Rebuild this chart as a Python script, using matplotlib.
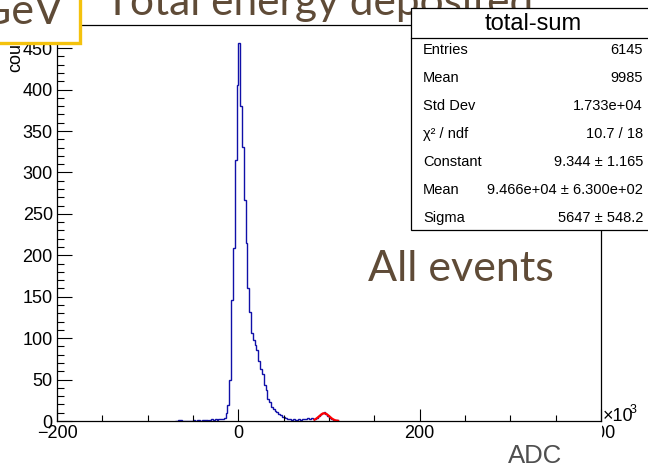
import numpy as np
import matplotlib
matplotlib.use("Agg")
import matplotlib.pyplot as plt
from matplotlib.transforms import Affine2D
from matplotlib.patches import Rectangle
from matplotlib.ticker import MultipleLocator, FixedLocator

# ---------------- data ----------------
bin_start = -70.0      # x10^3 ADC
bin_width = 2.0        # x10^3 ADC
counts = [0, 0, 1, 1, 0, 0, 0, 0, 0, 0,
          1, 0, 1, 1, 0, 1, 1, 1, 0, 1,
          2, 1, 2, 1, 2, 3, 3, 4, 10, 19,
          50, 146, 209, 315, 405,
          456, 380, 331, 267, 215, 160, 132, 106, 98, 92,
          86, 72, 63, 57, 44, 38, 27, 23, 17, 14,
          12, 11, 8, 7, 5, 5, 4, 3, 2, 1,
          2, 1, 1, 2, 1, 2, 3, 2, 4, 3,
          4, 2, 2, 4, 6, 8, 10, 11, 9, 6,
          4, 2, 1, 0, 1]

fit_const = 9.344
fit_mean = 94.66      # x10^3
fit_sigma = 5.647     # x10^3
fit_range = (84.0, 110.0)

stats_title = "total-sum"
stats_labels = ["Entries", "Mean", "Std Dev", "\u03c7\u00b2 / ndf", "Constant", "Mean", "Sigma"]
stats_values = ["6145", "9985", "1.733e+04", "10.7 / 18", "9.344 \u00b1 1.165",
                "9.466e+04 \u00b1 6.300e+02", "5647 \u00b1 548.2"]

x_major = [-200, 0, 200, 400]
x_ticklabels = ["\u2212200", "0", "200", "400"]

# ---------------- figure ----------------
W, H = 648, 465
fig = plt.figure(figsize=(W / 100, H / 100), dpi=100)
px = Affine2D().scale(1 / W, -1 / H).translate(0, 1) + fig.transFigure

ROOTF = "Liberation Sans"
SLIDEF = "Lato"
brown = "#5f4b37"

L, R, T, B = 57, 601, 25, 421
ax = fig.add_axes([L / W, 1 - B / H, (R - L) / W, (B - T) / H])

edges = bin_start + bin_width * np.arange(len(counts) + 1)
ax.stairs(counts, edges, color="#1010a8", lw=1.0, baseline=0)

xf = np.linspace(fit_range[0], fit_range[1], 200)
yf = fit_const * np.exp(-0.5 * ((xf - fit_mean) / fit_sigma) ** 2)
ax.plot(xf, yf, color="#ff0000", lw=1.6)

ax.set_xlim(-200, 400)
ax.set_ylim(0, 478)

for s in ax.spines.values():
    s.set_color("black")
    s.set_linewidth(0.9)

ax.xaxis.set_major_locator(FixedLocator(x_major))
ax.set_xticklabels(x_ticklabels)
ax.xaxis.set_minor_locator(MultipleLocator(50))
ax.yaxis.set_major_locator(MultipleLocator(50))
ax.yaxis.set_minor_locator(MultipleLocator(10))
ax.tick_params(axis="x", which="major", direction="in", length=8.5, width=0.8, pad=3,
               labelsize=13, top=False, colors="black")
ax.tick_params(axis="x", which="minor", direction="in", length=4.3, width=0.8, top=False)
ax.tick_params(axis="y", which="major", direction="in", length=10.8, width=0.8, pad=3,
               labelsize=13, right=False)
ax.tick_params(axis="y", which="minor", direction="in", length=5.0, width=0.8, right=False)
for lab in ax.get_xticklabels() + ax.get_yticklabels():
    lab.set_family(ROOTF)

# x10^3 multiplier
fig.text(603, 421, "\u00d710", transform=px, fontsize=13, family=ROOTF, ha="left", va="baseline")
fig.text(630, 413, "3", transform=px, fontsize=9, family=ROOTF, ha="left", va="baseline")

# cover left part of "400" label (as in reference)
fig.patches.append(Rectangle((583, 423), 18.5, 20, transform=px, facecolor="white",
                             edgecolor="none", zorder=5))

# y-axis title (partially hidden)
fig.text(20, 72, "counts", transform=px, rotation=90, rotation_mode="anchor",
         fontsize=13, family=ROOTF, ha="left", va="baseline")

# x-axis title
fig.text(508, 463, "ADC", transform=px, fontsize=18.5, family=ROOTF, color="#4f4f4f",
         ha="left", va="baseline")

# slide title (cut at top)
fig.text(105, 15, "Total energy deposited", transform=px, fontsize=30.5, family=SLIDEF,
         color=brown, ha="left", va="baseline", zorder=3)

# stats box
fig.patches.append(Rectangle((411, 8), 260, 222, transform=px, facecolor="white",
                             edgecolor="black", lw=0.9, zorder=6))
fig.lines.append(plt.Line2D([411, 648], [38, 38], transform=px, color="black", lw=0.9, zorder=7))
fig.text(533, 24, stats_title, transform=px, fontsize=17, family=ROOTF, ha="center",
         va="center", zorder=8)
row_y0, row_dy = 50, 28
for i, (lab, val) in enumerate(zip(stats_labels, stats_values)):
    yy = row_y0 + i * row_dy
    fig.text(423, yy, lab, transform=px, fontsize=10.5, family=ROOTF, ha="left",
             va="center", zorder=8)
    fig.text(643, yy, val, transform=px, fontsize=10.5, family=ROOTF, ha="right",
             va="center", zorder=8)

# GeV box
fig.patches.append(Rectangle((-20, -20), 100, 63, transform=px, facecolor="white",
                             edgecolor="#f4c20d", lw=2.4, zorder=9))
fig.text(-20, 24, "GeV", transform=px, fontsize=31, family=SLIDEF, color=brown,
         ha="left", va="baseline", zorder=10)

# All events
fig.text(368, 281, "All events", transform=px, fontsize=31, family=SLIDEF, color=brown,
         ha="left", va="baseline", zorder=4)

fig.savefig("out.png", dpi=100)
